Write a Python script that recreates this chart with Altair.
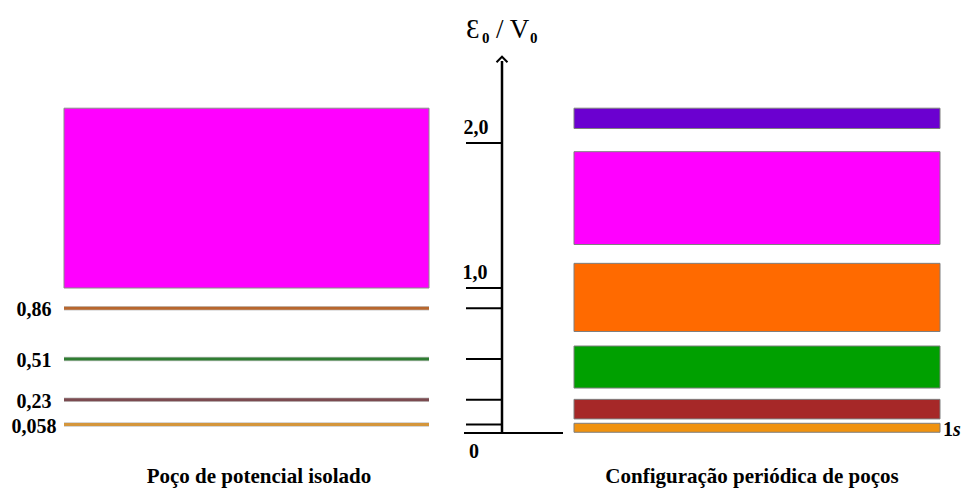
import altair as alt
import pandas as pd

# ---- data ----
levels = [0.058, 0.23, 0.51, 0.86]
level_labels = ["0,058", "0,23", "0,51", "0,86"]
level_colors = ["#d4963c", "#7b4b50", "#2f7d32", "#b8672e"]
continuum = [1.0, 2.24]
continuum_color = "#ff00ff"

band_low = [0.005, 0.097, 0.31, 0.70, 1.30, 2.10]
band_high = [0.067, 0.232, 0.60, 1.17, 1.94, 2.24]
band_colors = ["#f0920f", "#a62828", "#00a000", "#ff6a00", "#ff00ff", "#6b00d0"]

axis_ticks = [0.058, 0.23, 0.51, 0.86, 1.0, 2.0]
axis_tick_labels = ["0", "1,0", "2,0"]
axis_tick_label_values = [0.0, 1.0, 2.0]
axis_top = 2.565

panel_titles = ["Poço de potencial isolado", "Configuração periódica de poços"]

# ---- layout (page pixels for x) ----
W, H = 953, 480
PX0 = 433.0
UNIT = 145.0
def v(py):
    return (PX0 - py) / UNIT

xs = alt.Scale(domain=[8, 8 + W], range=[0, W])
ys = alt.Scale(domain=[v(8 + H), v(8)], range=[H, 0])
X = lambda f: alt.X(f, type="quantitative", scale=xs, axis=None)
Y = lambda f: alt.Y(f, type="quantitative", scale=ys, axis=None)
FONT = "Liberation Serif"

left_x0, left_x1 = 64, 429
right_x0, right_x1 = 574, 940
axis_x = 502

# left panel
cont_df = pd.DataFrame({"x0": [left_x0], "x1": [left_x1], "y0": [continuum[0]], "y1": [continuum[1]], "c": [continuum_color]})
cont = alt.Chart(cont_df).mark_rect(stroke="#8a8a8a", strokeWidth=1).encode(
    x=X("x0"), x2="x1", y=Y("y0"), y2="y1", color=alt.Color("c:N", scale=None))

lev_df = pd.DataFrame({"x0": left_x0, "x1": left_x1, "y": levels, "c": level_colors, "t": level_labels})
lev_outline = alt.Chart(lev_df).mark_rule(strokeWidth=4.5, color="#c8c8c8").encode(
    x=X("x0"), x2="x1", y=Y("y"))
lev = alt.Chart(lev_df).mark_rule(strokeWidth=3).encode(
    x=X("x0"), x2="x1", y=Y("y"), color=alt.Color("c:N", scale=None))
lev_txt = alt.Chart(lev_df.assign(lx=34)).mark_text(
    font=FONT, fontSize=20, fontWeight="bold", align="center", baseline="middle", dy=2, color="black").encode(
    x=X("lx"), y=Y("y"), text="t:N")

# right panel
band_df = pd.DataFrame({"x0": right_x0, "x1": right_x1, "y0": band_low, "y1": band_high, "c": band_colors})
bands = alt.Chart(band_df).mark_rect(stroke="#7f7f7f", strokeWidth=1).encode(
    x=X("x0"), x2="x1", y=Y("y0"), y2="y1", color=alt.Color("c:N", scale=None))
s_df = pd.DataFrame({"x": [943], "y": [band_low[0]], "t1": ["1"], "t2": ["s"]})
s1 = alt.Chart(s_df).mark_text(font=FONT, fontSize=20, fontWeight="bold", align="left",
                               baseline="alphabetic", dy=4, color="black").encode(x=X("x"), y=Y("y"), text="t1:N")
s2 = alt.Chart(s_df.assign(x=953)).mark_text(font=FONT, fontSize=20, fontWeight="bold", fontStyle="italic",
                                             align="left", baseline="alphabetic", dy=4, color="black").encode(
    x=X("x"), y=Y("y"), text="t2:N")

# central axis
ax_df = pd.DataFrame({"x": [axis_x], "y0": [0.0], "y1": [axis_top]})
ax_line = alt.Chart(ax_df).mark_rule(strokeWidth=2.5, color="black").encode(x=X("x"), y=Y("y0"), y2="y1")
base_df = pd.DataFrame({"x0": [464], "x1": [563], "y": [0.0]})
base = alt.Chart(base_df).mark_rule(strokeWidth=2, color="black").encode(x=X("x0"), x2="x1", y=Y("y"))
tick_df = pd.DataFrame({"x0": 466, "x1": axis_x, "y": axis_ticks})
ticks = alt.Chart(tick_df).mark_rule(strokeWidth=2, color="black").encode(x=X("x0"), x2="x1", y=Y("y"))
arrow_df = pd.DataFrame({"x": [axis_x], "y": [axis_top + 0.015]})
arrow = alt.Chart(arrow_df).mark_point(shape="M-1,0.6L0,-0.4L1,0.6", size=120, filled=False,
                                       stroke="black", strokeWidth=2, opacity=1).encode(x=X("x"), y=Y("y"))
tl_df = pd.DataFrame({"x": [474, 475, 476], "y": axis_tick_label_values, "t": axis_tick_labels})
tl_num = alt.Chart(tl_df[tl_df.y > 0]).mark_text(font=FONT, fontSize=20, fontWeight="bold", align="center",
                                                 baseline="alphabetic", dy=-9, color="black").encode(
    x=X("x"), y=Y("y"), text="t:N")
tl_zero = alt.Chart(tl_df[tl_df.y == 0]).mark_text(font=FONT, fontSize=20, fontWeight="bold", align="center",
                                                   baseline="top", dy=9, color="black").encode(
    x=X("x"), y=Y("y"), text="t:N")

# axis title  Ɛ0 / V0
title_big = pd.DataFrame({"x": [466, 496], "y": [v(38), v(38)], "t": ["Ɛ", "/ V"]})
title_sub = pd.DataFrame({"x": [482, 530], "y": [v(43), v(43)], "t": ["0", "0"]})
tb = alt.Chart(title_big).mark_text(font=FONT, fontSize=27, align="left", baseline="alphabetic", color="black").encode(
    x=X("x"), y=Y("y"), text="t:N")
ts = alt.Chart(title_sub).mark_text(font=FONT, fontSize=15, fontWeight="bold", align="left", baseline="alphabetic",
                                    color="black").encode(x=X("x"), y=Y("y"), text="t:N")

# panel titles
pt_df = pd.DataFrame({"x": [259, 752], "y": [v(483), v(483)], "t": panel_titles})
pt = alt.Chart(pt_df).mark_text(font=FONT, fontSize=21, fontWeight="bold", align="center", baseline="alphabetic",
                                color="black").encode(x=X("x"), y=Y("y"), text="t:N")

chart = alt.layer(cont, lev_outline, lev, lev_txt, bands, s1, s2, ax_line, base, ticks, arrow,
                  tl_num, tl_zero, tb, ts, pt).properties(
    width=W, height=H, padding=0, autosize=alt.AutoSizeParams(type="none"),
    background="white").configure_view(stroke=None)

chart.save("out.html", embed_options={"renderer": "svg", "actions": False})
